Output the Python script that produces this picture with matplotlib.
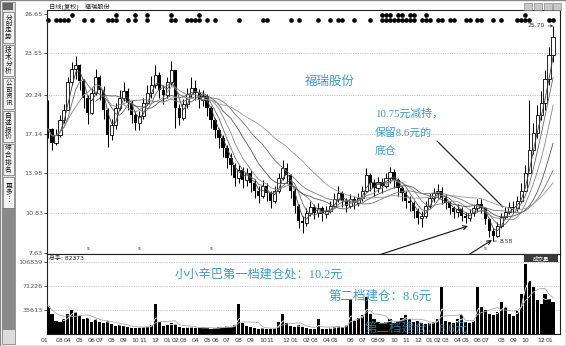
import numpy as np
import pandas as pd
import matplotlib
matplotlib.use('Agg')
import matplotlib.pyplot as plt
from matplotlib.patches import Rectangle

plt.rcParams['font.family'] = ['DejaVu Sans', 'Noto Sans CJK SC']

# ---- data (one bar ~ 8 trading days) ----
close = [17.5, 16.4, 17.0, 18.2, 19.0, 21.2, 22.3, 22.6, 21.3, 20.0,
         18.8, 20.4, 21.6, 20.6, 19.0, 17.0, 17.8, 19.2, 20.0, 20.5,
         19.6, 18.6, 18.0, 18.5, 19.6, 20.4, 21.0, 21.8, 20.6, 20.2,
         21.2, 22.2, 19.2, 18.4, 19.5, 20.3, 20.8, 20.4, 19.8, 20.1,
         19.2, 18.2, 17.4, 16.8, 16.0, 15.2, 14.6, 13.6, 14.2, 13.4,
         14.0, 13.2, 12.6, 12.2, 13.0, 12.4, 11.8, 12.6, 13.6, 14.4,
         13.8, 12.6, 11.4, 10.2, 10.0, 10.8, 11.3, 10.8, 11.2, 10.7,
         11.0, 11.4, 11.9, 12.4, 11.8, 11.4, 11.9, 11.6, 12.0, 12.6,
         13.8, 13.2, 12.8, 13.3, 13.0, 13.6, 14.1, 13.4, 12.8, 12.4,
         11.8, 11.6, 11.0, 10.4, 10.6, 11.4, 12.0, 12.4, 12.6, 12.0,
         11.6, 11.2, 10.9, 11.1, 10.6, 10.4, 10.8, 11.2, 11.5, 11.2,
         10.3, 9.4, 9.0, 9.8, 10.5, 10.9, 11.3, 11.2, 11.8, 12.6,
         14.0, 15.8, 17.2, 18.6, 19.6, 21.5, 23.4, 24.8]
high = [19.8, 17.6, 17.5, 18.6, 19.5, 21.6, 22.8, 23.3, 22.7, 21.5,
        20.2, 20.8, 22.3, 21.8, 20.9, 19.2, 18.3, 19.6, 20.6, 21.2,
        20.8, 19.8, 18.9, 18.9, 20.0, 21.0, 21.7, 22.6, 22.0, 21.0,
        21.6, 22.9, 22.0, 19.5, 19.9, 20.8, 21.6, 21.4, 20.7, 20.6,
        20.3, 19.3, 18.4, 17.6, 17.0, 16.2, 15.6, 14.8, 14.6, 14.5,
        14.4, 14.2, 13.5, 13.0, 13.4, 13.2, 12.6, 13.0, 14.0, 15.0,
        14.8, 13.9, 12.8, 11.5, 10.6, 11.2, 11.8, 11.5, 11.6, 11.4,
        11.4, 11.8, 12.4, 13.0, 12.6, 12.0, 12.3, 12.2, 12.4, 13.0,
        14.4, 14.0, 13.5, 13.7, 13.6, 14.0, 14.5, 14.3, 13.6, 13.0,
        12.6, 12.2, 11.8, 11.2, 11.0, 11.8, 12.4, 12.8, 13.1, 12.9,
        12.3, 11.8, 11.4, 11.5, 11.3, 10.9, 11.1, 11.5, 11.9, 11.9,
        11.3, 10.4, 9.6, 10.1, 10.8, 11.3, 11.7, 11.8, 12.2, 13.2,
        14.6, 19.8, 18.0, 19.4, 20.5, 22.2, 24.0, 25.7]
low = [16.8, 15.8, 16.2, 16.9, 18.0, 19.0, 21.0, 21.5, 20.6, 19.2,
       17.9, 18.7, 20.2, 19.8, 18.3, 16.1, 16.6, 17.5, 19.0, 19.7,
       19.0, 18.0, 17.4, 17.4, 18.3, 19.4, 20.0, 20.8, 20.0, 19.5,
       20.0, 21.0, 17.6, 17.8, 18.2, 19.2, 20.0, 19.8, 19.2, 19.3,
       18.5, 17.6, 16.8, 16.0, 15.3, 14.4, 13.8, 13.0, 13.2, 12.8,
       13.0, 12.5, 12.0, 11.6, 12.0, 11.8, 11.2, 11.6, 12.4, 13.4,
       13.2, 12.0, 10.8, 9.6, 9.2, 9.8, 10.6, 10.3, 10.5, 10.2,
       10.4, 10.8, 11.2, 11.7, 11.3, 10.9, 11.2, 11.1, 11.4, 11.8,
       12.5, 12.6, 12.2, 12.5, 12.4, 12.8, 13.2, 12.8, 12.2, 11.8,
       11.2, 11.0, 10.4, 9.9, 9.7, 10.4, 11.2, 11.7, 12.0, 11.5,
       11.1, 10.7, 10.4, 10.5, 10.2, 10.0, 10.2, 10.6, 10.9, 10.8,
       9.9, 8.9, 8.58, 8.9, 9.6, 10.3, 10.7, 10.8, 11.0, 11.6,
       12.6, 14.0, 15.5, 16.8, 18.2, 19.0, 21.0, 22.8]
volume = [42000, 30000, 20000, 18000, 22000, 30000, 36000, 32000, 26000, 22000,
          24000, 18000, 22000, 18000, 16000, 20000, 15000, 12000, 13000, 12000,
          10000, 9000, 9500, 10000, 11000, 12000, 13000, 44000, 18000, 12000,
          13000, 16000, 15000, 10000, 9000, 10000, 11000, 9000, 8500, 10000,
          9000, 8000, 9000, 10000, 11000, 12000, 10000, 14000, 44000, 16000,
          12000, 10000, 9000, 8000, 9000, 8000, 7500, 9000, 18000, 30000,
          16000, 12000, 10000, 13000, 11000, 9000, 8000, 7500, 22000, 7000,
          8000, 9000, 10000, 12000, 11000, 14000, 52000, 20000, 24000, 28000,
          55000, 30000, 22000, 18000, 16000, 18000, 22000, 17000, 20000, 24000,
          28000, 22000, 18000, 20000, 17000, 15000, 16000, 18000, 22000, 70000,
          20000, 18000, 16000, 22000, 28000, 18000, 16000, 20000, 70000, 40000,
          36000, 30000, 28000, 32000, 48000, 40000, 30000, 26000, 34000, 60000,
          104000, 78000, 70000, 50000, 44000, 60000, 52000, 48000]

month_labels = ['01', '03', '04', '05', '06', '07', '08', '09', '10', '11', '12',
                '01', '02', '03', '04', '05', '06', '07', '08', '09', '10', '11', '12',
                '01', '02', '03', '04', '05', '06', '07', '08', '09', '10', '11', '12',
                '01', '02', '03', '04', '05', '06', '07', '08', '09', '10', '12', '01']
month_bars = [-1, 3, 5, 8, 11, 13, 16, 19, 22, 24, 27,
              30, 32, 34, 37, 40, 42, 45, 48, 51, 54, 56, 60,
              62, 65, 67, 70, 72, 76, 79, 82, 84, 87, 90, 93,
              96, 98, 100, 103, 105, 108, 110, 114, 117, 120, 124, 126]

dot_low = [0, 2, 3, 4, 5, 9, 11, 15, 16, 17, 20, 22, 25, 31, 32, 35, 36, 37, 38,
           40, 42, 48, 54, 55, 61, 63, 68, 71, 73, 74, 77, 81,
           84, 85, 86, 87, 88, 89, 90, 91, 92, 94, 95, 96, 98, 99, 101, 102,
           105, 106, 108, 109, 112, 114, 118, 119, 120, 121, 126, 127]
dot_high = [6, 17, 22, 25, 31, 38, 84, 85, 86, 88, 89, 91, 92, 95, 120]
mark_bars = [10, 23, 41, 110]

price_ticks = [26.65, 23.55, 20.24, 17.14, 13.98, 10.83, 7.63]
vol_ticks = [35613, 71226, 106839]
total_hands = 82373

W, H = 566, 346
fig = plt.figure(figsize=(W / 100, H / 100), dpi=100)


def fx(px):
    return px / W


def fy(py):
    return 1 - py / H


ax = fig.add_axes([fx(47), fy(254), fx(560) - fx(47), fy(10) - fy(254)])
axv = fig.add_axes([fx(47), fy(334), fx(560) - fx(47), fy(254) - fy(334)], sharex=ax)

c = np.array(close)
o = np.r_[c[0], c[:-1]]
hi = np.maximum(np.array(high), np.maximum(o, c))
lo = np.minimum(np.array(low), np.minimum(o, c))
n = len(c)
x = np.arange(n)
up = c >= o

# candles
ax.vlines(x, lo, hi, color='black', lw=0.75, zorder=3)
ax.bar(x[up], (c - o)[up], bottom=o[up], width=0.8, facecolor='white',
       edgecolor='black', lw=0.6, zorder=4)
ax.bar(x[~up], (o - c)[~up], bottom=c[~up], width=0.8, color='black', zorder=4)

# moving averages
s = pd.Series(c)
for w, col in zip([3, 5, 8, 13, 20, 30], ['#444', '#666', '#888', '#555', '#777', '#999']):
    ma = s.rolling(w, min_periods=1 if w < 13 else w).mean()
    ax.plot(x, ma, color=col, lw=0.6, zorder=5)

ax.set_xlim(-0.25, n + 0.75)
ax.set_ylim(7.55, 26.97)
for t in price_ticks[1:-1]:
    ax.axhline(t, color='#999', lw=0.5, ls=(0, (1, 1.5)), zorder=1)
ax.set_yticks(price_ticks)
ax.set_yticklabels([f'{t:.2f}' for t in price_ticks])
ax.tick_params(axis='y', labelsize=4.6, labelcolor='#555', length=2, width=0.5, pad=1)
ax.tick_params(axis='x', bottom=False, labelbottom=False)

# signal dots along the top
xt = ax.get_xaxis_transform()
ax.plot(dot_low, [0.959] * len(dot_low), 'o', ms=2.3, color='black', transform=xt, clip_on=False)
ax.plot(dot_high, [0.98] * len(dot_high), 'o', ms=2.3, color='black', transform=xt, clip_on=False)
for b in mark_bars:
    ax.text(b, 0.012, 's', transform=xt, fontsize=4, color='#333', ha='center', va='bottom')

# extremes
imax = int(np.argmax(hi))
imin = int(np.argmin(lo))
ax.annotate(f'{hi[imax]:.2f}', xy=(imax, hi[imax]), xytext=(imax - 2, hi[imax]),
            fontsize=4.3, ha='right', va='center', color='#333',
            arrowprops=dict(arrowstyle='->', lw=0.4, shrinkA=0, shrinkB=0, mutation_scale=4))
ax.annotate(f'{lo[imin]:.2f}', xy=(imin, lo[imin]), xytext=(imin + 1.5, lo[imin]),
            fontsize=4.3, ha='left', va='center', color='#333',
            arrowprops=dict(arrowstyle='-', lw=0.4, shrinkA=0, shrinkB=0))

# volume
v = np.array(volume)
axv.bar(x, v, width=0.8, color='black', zorder=3)
vs = pd.Series(v)
axv.plot(x, vs.rolling(3, min_periods=1).mean(), color='white', lw=0.6, zorder=4)
axv.plot(x, vs.rolling(6, min_periods=1).mean(), color='#aaa', lw=0.6, zorder=4)
axv.set_ylim(0, 35613 * 80 / 24)
for t in vol_ticks:
    axv.axhline(t, color='#999', lw=0.5, ls=(0, (1, 1.5)), zorder=1)
axv.set_yticks(vol_ticks)
axv.set_yticklabels([str(t) for t in vol_ticks])
axv.tick_params(axis='y', labelsize=4.6, labelcolor='#555', length=2, width=0.5, pad=1)
axv.tick_params(axis='x', bottom=False, labelbottom=False)
xtv = axv.get_xaxis_transform()
for lab, b in zip(month_labels, month_bars):
    axv.text(b, -0.075, lab, transform=xtv, fontsize=4.5, color='#333',
             ha='center', va='center', clip_on=False)

for a in (ax, axv):
    for sp in a.spines.values():
        sp.set_linewidth(0.8)
        sp.set_color('#222')

# header texts
fig.text(fx(49), fy(6.5), '日线(复权)   福瑞股份', fontsize=4.5, va='center', color='#222')
fig.text(fx(49), fy(258.5), f'总手: {total_hands}', fontsize=4.3, va='center', color='#222')
fig.add_artist(Rectangle((fx(524), fy(262)), fx(34), 8 / H, transform=fig.transFigure,
                         facecolor='#3a3a3a', edgecolor='none', zorder=6))
fig.text(fx(541), fy(258), '成交量', fontsize=4, color='white', ha='center', va='center', zorder=7)
for x0 in (524, 534, 544, 553):
    fig.add_artist(Rectangle((fx(x0), fy(10)), fx(8), 7 / H, transform=fig.transFigure,
                             facecolor='#c8c8c8', edgecolor='#777', lw=0.4))

# left sidebar
fig.add_artist(Rectangle((fx(2), fy(344)), fx(13), 342 / H, transform=fig.transFigure,
                         facecolor='#dcdcdc', edgecolor='#777', lw=0.5))
fig.add_artist(Rectangle((fx(2), fy(330)), fx(13), 122 / H, transform=fig.transFigure,
                         facecolor='#8a8a8a', edgecolor='none'))
fig.add_artist(Rectangle((fx(3), fy(10)), fx(10), 7 / H, transform=fig.transFigure,
                         facecolor='#666', edgecolor='none'))
tabs = ['分时走势', '技术分析', '公司资讯', '自选报价', '综合排名', '更多⋮']
for k, name in enumerate(tabs):
    top = 12 + k * 33
    fig.add_artist(Rectangle((fx(3), fy(top + 31)), fx(11), 31 / H, transform=fig.transFigure,
                             facecolor='#f4f4f4', edgecolor='#555', lw=0.4))
    fig.text(fx(8.5), fy(top + 15), '\n'.join(name), fontsize=4.8, linespacing=1.05,
             ha='center', va='center', color='#111')

# annotations
blue = '#3d9cc9'
fam = ['Liberation Serif', 'Noto Sans CJK SC']
fig.text(fx(305), fy(82), '福瑞股份', fontsize=9, color=blue, family=fam, va='center')
fig.text(fx(375), fy(114), '10.75元减持，', fontsize=7.8, color=blue, family=fam, va='center')
fig.text(fx(375), fy(132), '保留8.6元的', fontsize=7.8, color=blue, family=fam, va='center')
fig.text(fx(375), fy(151), '底仓', fontsize=7.8, color=blue, family=fam, va='center')
fig.text(fx(175), fy(275), '小小辛巴第一档建仓处：10.2元', fontsize=8.8, color=blue, family=fam, va='center')
fig.text(fx(328), fy(297), '第二档建仓：8.6元', fontsize=9, color=blue, family=fam, va='center')
fig.text(fx(364), fy(329), '第二档建仓：8.6元', fontsize=9, color=blue, family=fam, va='center',
         alpha=0.75, zorder=8)


def link(p0, p1, style):
    ax.annotate('', xy=(fx(p1[0]), fy(p1[1])), xytext=(fx(p0[0]), fy(p0[1])),
                xycoords='figure fraction', textcoords='figure fraction',
                arrowprops=dict(arrowstyle=style, lw=0.8, color='#111',
                                shrinkA=0, shrinkB=0, mutation_scale=7))


link((437, 141), (503, 207), '-')
link((345, 266), (468, 226), '->')
link((413, 290), (492, 240), '->')

fig.add_artist(Rectangle((0, 0), 1, 1, transform=fig.transFigure, fill=False,
                         edgecolor='#888', lw=1))

fig.savefig('out.png', dpi=100)
